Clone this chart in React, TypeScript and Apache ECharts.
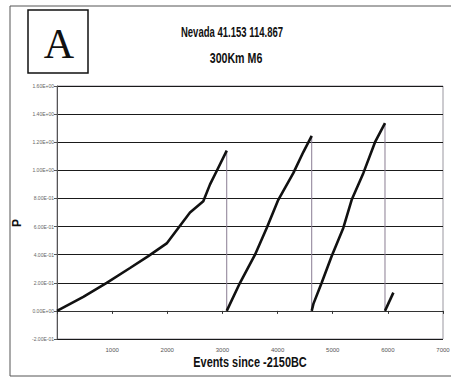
import React, { useEffect, useRef } from "react";
import * as echarts from "echarts";

// Cumulative probability P against event count, four rising cycles
const cycle1X = [0, 477, 901, 1324, 1656, 1989, 2200, 2412, 2653, 2775, 2896, 3078];
const cycle1Y = [0, 0.1, 0.2, 0.305, 0.39, 0.48, 0.59, 0.7, 0.78, 0.9, 0.995, 1.14];
const cycle2X = [3078, 3319, 3591, 3803, 4013, 4285, 4467, 4619];
const cycle2Y = [0, 0.2, 0.4, 0.59, 0.79, 0.98, 1.13, 1.245];
const cycle3X = [4619, 4650, 4800, 4982, 5192, 5344, 5555, 5767, 5948];
const cycle3Y = [0, 0.05, 0.2, 0.39, 0.59, 0.79, 0.98, 1.2, 1.336];
const cycle4X = [5948, 6100];
const cycle4Y = [0, 0.13];

// Resets back to zero at the end of each cycle
const resetX = [3078, 4619, 5948];
const resetTop = [1.14, 1.245, 1.336];

const yTickLabels: Record<string, string> = {
  "1.6": "1.60E+00",
  "1.4": "1.40E+00",
  "1.2": "1.20E+00",
  "1": "1.00E+00",
  "0.8": "8.00E-01",
  "0.6": "6.00E-01",
  "0.4": "4.00E-01",
  "0.2": "2.00E-01",
  "0": "0.00E+00",
  "-0.2": "-2.00E-01",
};

const titleLine1 = "Nevada 41.153 114.867";
const titleLine2 = "300Km M6";
const xName = "Events since -2150BC";
const yName = "P";
const panelLetter = "A";

const zip = (xs: number[], ys: number[]) => xs.map((x, i) => [x, ys[i]]);

export default function App() {
  const ref = useRef<HTMLDivElement>(null);

  useEffect(() => {
    if (!ref.current) return;
    const chart = echarts.init(ref.current, null, { renderer: "svg" });
    const sans = "'Liberation Sans', Arial, sans-serif";

    const curveStyle = { color: "#111", width: 2.6 };
    const curve = (xs: number[], ys: number[]) => ({
      type: "line",
      data: zip(xs, ys),
      showSymbol: false,
      lineStyle: curveStyle,
      itemStyle: { color: "#111" },
      z: 5,
    });
    const resets = resetX.map((x, i) => ({
      type: "line",
      data: [
        [x, resetTop[i]],
        [x, 0],
      ],
      showSymbol: false,
      lineStyle: { color: "#8a7d93", width: 1 },
      z: 4,
    }));

    // condensed bold text (narrow face emulated by horizontal scaling)
    const narrowText = (text: string, x: number, y: number, size: number, sx: number) => ({
      type: "text",
      x,
      y,
      scaleX: sx,
      style: {
        text,
        font: `bold ${size}px ${sans}`,
        fill: "#111",
        align: "center",
        verticalAlign: "middle",
      },
    });

    chart.setOption({
      animation: false,
      backgroundColor: "#fff",
      grid: {
        left: 57,
        right: 8,
        top: 86,
        bottom: 40,
        containLabel: false,
        outerBoundsMode: "none",
        show: true,
        borderColor: "#9a97a0",
        borderWidth: 1,
      },
      graphic: [
        {
          type: "rect",
          shape: { x: 10, y: 6, width: 445, height: 370 },
          style: { fill: "none", stroke: "#555", lineWidth: 1 },
        },
        {
          type: "rect",
          shape: { x: 28, y: 10, width: 60, height: 63 },
          style: { fill: "#fff", stroke: "#111", lineWidth: 1.5 },
        },
        {
          type: "text",
          x: 59,
          y: 44,
          style: {
            text: panelLetter,
            font: "42px 'Liberation Serif', 'DejaVu Serif', serif",
            fill: "#111",
            align: "center",
            verticalAlign: "middle",
          },
        },
        narrowText(titleLine1, 232, 32, 14, 0.68),
        narrowText(titleLine2, 236, 58, 14, 0.76),
        narrowText(xName, 250, 363, 14, 0.78),
        {
          type: "text",
          x: 17,
          y: 223,
          rotation: Math.PI / 2,
          style: {
            text: yName,
            font: `bold 12px ${sans}`,
            fill: "#111",
            align: "center",
            verticalAlign: "middle",
          },
        },
      ],
      xAxis: {
        type: "value",
        min: 0,
        max: 7000,
        interval: 1000,
        axisLine: { onZero: true, lineStyle: { color: "#333", width: 1 } },
        axisTick: { show: true, length: 3, lineStyle: { color: "#333" } },
        axisLabel: {
          fontSize: 6,
          color: "#555",
          margin: 8,
          formatter: (v: number) => (v === 0 ? "" : String(v)),
        },
        splitLine: { show: false },
      },
      yAxis: {
        type: "value",
        min: -0.2,
        max: 1.6,
        interval: 0.2,
        axisLine: { show: true, onZero: false, lineStyle: { color: "#555", width: 1 } },
        axisTick: { show: true, length: 3, lineStyle: { color: "#555" } },
        axisLabel: {
          fontSize: 5,
          color: "#666",
          margin: 3,
          formatter: (v: number) => yTickLabels[String(Math.round(v * 10) / 10)] ?? "",
        },
        splitLine: { show: true, lineStyle: { color: "#1a1a1a", width: 1 } },
      },
      series: [
        curve(cycle1X, cycle1Y),
        curve(cycle2X, cycle2Y),
        curve(cycle3X, cycle3Y),
        curve(cycle4X, cycle4Y),
        ...resets,
      ],
    });

    return () => chart.dispose();
  }, []);

  return (
    <div
      ref={ref}
      style={{ position: "absolute", left: 0, top: 0, width: 451, height: 379 }}
    />
  );
}
